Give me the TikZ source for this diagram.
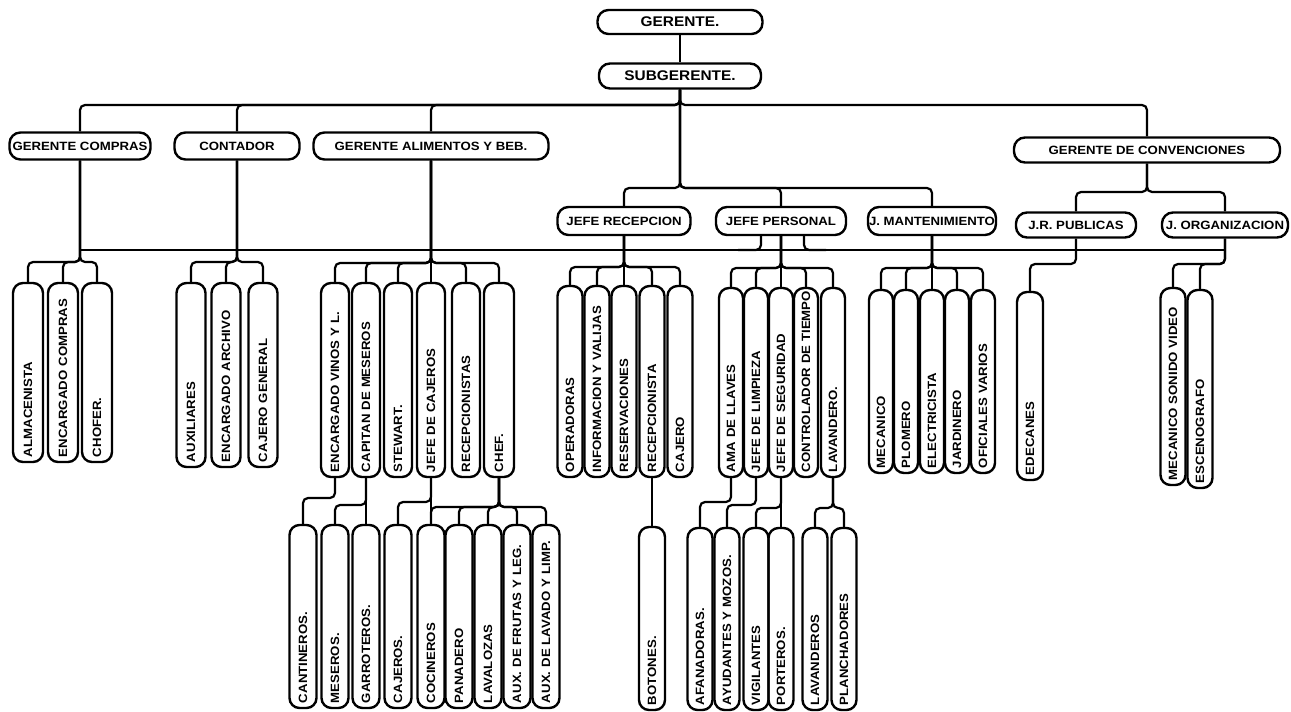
\documentclass[tikz,border=0pt]{standalone}
\usepackage{fontspec}
\newfontfamily\hand{Liberation Sans}[FakeStretch=1.1]
\usetikzlibrary{calc}
\tikzset{
  hbox/.style={
    rectangle, rounded corners=11pt,
    draw=black, line width=2.4pt,
    minimum height=27pt, inner xsep=1pt, inner ysep=2pt,
    font=\hand\bfseries\fontsize{12}{13}\selectfont
  },
  topbox/.style={
    hbox, font=\hand\bfseries\fontsize{14}{15}\selectfont
  },
  vbox/.style={
    rectangle, rounded corners=10pt, rotate=90,
    draw=black, line width=2.4pt,
    align=left, inner xsep=4pt, inner ysep=1pt,
    font=\hand\bfseries\fontsize{12}{13}\selectfont
  },
  link/.style={draw=black, line width=2.2pt, rounded corners=5pt},
}
% upright post: [thickness]{name}{x}{top}{bottom}{label}
\newcommand{\vpost}[6][26]{%
  \pgfmathsetmacro{\postlen}{#5-#4}%
  \pgfmathsetmacro{\posttxt}{#5-#4-10}%
  \node[vbox, minimum width=\postlen pt, minimum height=#1pt, text width=\posttxt pt]
    (#2) at (#3,{(#4+#5)/2}) {\mbox{#6}};%
}

\begin{document}
\begin{tikzpicture}[x=1pt, y=-1pt]
  \useasboundingbox (0,0) rectangle (1291,712);

  % management
  \node[topbox, minimum width=165pt, minimum height=24pt] (ger) at (680,22) {GERENTE.};
  \node[topbox, minimum width=162pt, minimum height=25pt] (sub) at (680,76) {SUBGERENTE.};
  \node[hbox, minimum width=141pt] (gcom) at (80,146) {GERENTE COMPRAS};
  \node[hbox, minimum width=125pt] (cont) at (237,146) {CONTADOR};
  \node[hbox, minimum width=235pt] (gali) at (431,146) {GERENTE ALIMENTOS Y BEB.};
  \node[hbox, minimum width=266pt, minimum height=25pt] (gconv) at (1147,150) {GERENTE DE CONVENCIONES};
  \node[hbox, minimum width=133pt, minimum height=28pt] (jrec) at (624,221) {JEFE RECEPCION};
  \node[hbox, minimum width=130pt, minimum height=28pt] (jper) at (781,221) {JEFE PERSONAL};
  \node[hbox, minimum width=128pt, minimum height=28pt] (jman) at (932,221) {J. MANTENIMIENTO};
  \node[hbox, minimum width=120pt, minimum height=25pt] (jrp) at (1076,225) {J.R. PUBLICAS};
  \node[hbox, minimum width=126pt, minimum height=25pt] (jorg) at (1225,225) {J. ORGANIZACION};

  % staff
  \vpost[30]{alm}{28}{283}{462}{ALMACENISTA}
  \vpost[30]{encc}{63}{283}{462}{ENCARGADO COMPRAS}
  \vpost[30]{chof}{97}{283}{462}{CHOFER.}
  \vpost[29]{aux}{191}{283}{467}{AUXILIARES}
  \vpost[29]{enca}{226}{283}{467}{ENCARGADO ARCHIVO}
  \vpost[29]{cajg}{263}{283}{467}{CAJERO GENERAL}
  \vpost[28]{encv}{335}{283}{477}{ENCARGADO VINOS Y L.}
  \vpost[28]{capm}{366}{283}{477}{CAPITAN DE MESEROS}
  \vpost[28]{stew}{398}{283}{477}{STEWART.}
  \vpost[28]{jcaj}{431}{283}{477}{JEFE DE CAJEROS}
  \vpost[28]{recs}{466}{283}{477}{RECEPCIONISTAS}
  \vpost[30]{chef}{499}{283}{477}{CHEF.}
  \vpost[25]{oper}{570}{286}{477}{OPERADORAS}
  \vpost[25]{info}{597}{286}{477}{INFORMACION Y VALIJAS}
  \vpost[25]{resv}{624}{286}{477}{RESERVACIONES}
  \vpost[25]{recp}{652}{286}{477}{RECEPCIONISTA}
  \vpost[25]{caje}{680}{286}{477}{CAJERO}
  \vpost[24]{ama}{731}{288}{477}{AMA DE LLAVES}
  \vpost[24]{jlim}{756}{288}{477}{JEFE DE LIMPIEZA}
  \vpost[24]{jseg}{781}{288}{477}{JEFE DE SEGURIDAD}
  \vpost[24]{ctrl}{806}{288}{477}{CONTROLADOR DE TIEMPO}
  \vpost[24]{lav}{833}{288}{477}{LAVANDERO.}
  \vpost[24]{mec}{881}{290}{473}{MECANICO}
  \vpost[24]{plom}{906}{290}{473}{PLOMERO}
  \vpost[24]{elec}{932}{290}{473}{ELECTRICISTA}
  \vpost[24]{jard}{957}{290}{473}{JARDINERO}
  \vpost[24]{ofic}{983}{290}{473}{OFICIALES VARIOS}
  \vpost{edec}{1030}{292}{480}{EDECANES}
  \vpost[25]{msv}{1173}{288}{485}{MECANICO SONIDO VIDEO}
  \vpost[25]{esc}{1200}{290}{488}{ESCENOGRAFO}

  % third row
  \vpost[27]{cant}{303}{525}{708}{CANTINEROS.}
  \vpost[27]{mes}{335}{525}{708}{MESEROS.}
  \vpost[27]{garr}{366}{525}{708}{GARROTEROS.}
  \vpost[27]{caj}{398}{525}{708}{CAJEROS.}
  \vpost[27]{coc}{431}{525}{708}{COCINEROS}
  \vpost[27]{pan}{459}{525}{708}{PANADERO}
  \vpost[27]{lavz}{488}{525}{708}{LAVALOZAS}
  \vpost[27]{auxf}{517}{525}{708}{AUX. DE FRUTAS Y LEG.}
  \vpost[27]{auxl}{546}{525}{708}{AUX. DE LAVADO Y LIMP.}
  \vpost{bot}{652}{527}{710}{BOTONES.}
  \vpost[25]{afan}{700}{528}{710}{AFANADORAS.}
  \vpost[25]{ayud}{727}{528}{710}{AYUDANTES Y MOZOS.}
  \vpost[25]{vig}{756}{528}{710}{VIGILANTES}
  \vpost[25]{port}{781}{528}{710}{PORTEROS.}
  \vpost[25]{lavs}{815}{528}{710}{LAVANDEROS}
  \vpost[25]{plan}{844}{528}{710}{PLANCHADORES}

  \coordinate (perL) at (738,250);
  \coordinate (perR) at (826,250);

  % upper links
  \draw[link] (ger) -- (sub);
  \foreach \n in {gcom,cont,gali,gconv}
    \draw[link] (sub.south) -- (sub.south |- 0,105) -| (\n.north);
  \foreach \n in {jrec,jper,jman}
    \draw[link] (sub.south) -- (sub.south |- 0,188) -| (\n.north);
  \foreach \n in {jrp,jorg}
    \draw[link] (gconv.south) -- (gconv.south |- 0,192) -| (\n.north);

  % coordination line
  \draw[link] (gcom.south |- 0,250) -- (jorg.south |- 0,250);
  \draw[link] ([xshift=-20pt]jper.south) |- (perL);
  \draw[link] ([xshift=23pt]jper.south) |- (perR);

  % staff links
  \foreach \n in {alm,encc,chof}
    \draw[link] (gcom.south) -- (gcom.south |- 0,262) -| (\n.east);
  \foreach \n in {aux,enca,cajg}
    \draw[link] (cont.south) -- (cont.south |- 0,262) -| (\n.east);
  \foreach \n in {encv,capm,stew,recs,chef}
    \draw[link] (gali.south) -- (gali.south |- 0,263) -| (\n.east);
  \draw[link] (gali.south) -- (jcaj.east);
  \foreach \n in {oper,info,recp,caje}
    \draw[link] (jrec.south) -- (jrec.south |- 0,267) -| (\n.east);
  \draw[link] (jrec.south) -- (resv.east);
  \foreach \n in {ama,jlim,ctrl,lav}
    \draw[link] (jper.south) -- (jper.south |- 0,268) -| (\n.east);
  \draw[link] (jper.south) -- (jseg.east);
  \foreach \n in {mec,plom,jard,ofic}
    \draw[link] (jman.south) -- (jman.south |- 0,268) -| (\n.east);
  \draw[link] (jman.south) -- (elec.east);
  \draw[link] (jrp.south) -- (jrp.south |- 0,264) -| (edec.east);
  \foreach \n in {msv,esc}
    \draw[link] (jorg.south) -- (jorg.south |- 0,264) -| (\n.east);

  % third row links
  \draw[link] (encv.west) -- (encv.west |- 0,498) -| (cant.east);
  \draw[link] (capm.west) -- (capm.west |- 0,505) -| (mes.east);
  \draw[link] (capm.west) -- (garr.east);
  \draw[link] (jcaj.west) -- (jcaj.west |- 0,502) -| (caj.east);
  \draw[link] (jcaj.west) -- (coc.east);
  \foreach \n in {coc,pan,lavz,auxf,auxl}
    \draw[link] (chef.west) -- (chef.west |- 0,507) -| (\n.east);
  \draw[link] (recp.west) -- (bot.east);
  \draw[link] (ama.west) -- (ama.west |- 0,502) -| (afan.east);
  \draw[link] (jlim.west) -- (jlim.west |- 0,505) -| (ayud.east);
  \draw[link] (jseg.west) -- (jseg.west |- 0,508) -| (vig.east);
  \draw[link] (jseg.west) -- (port.east);
  \foreach \n in {lavs,plan}
    \draw[link] (lav.west) -- (lav.west |- 0,508) -| (\n.east);
\end{tikzpicture}
\end{document}
